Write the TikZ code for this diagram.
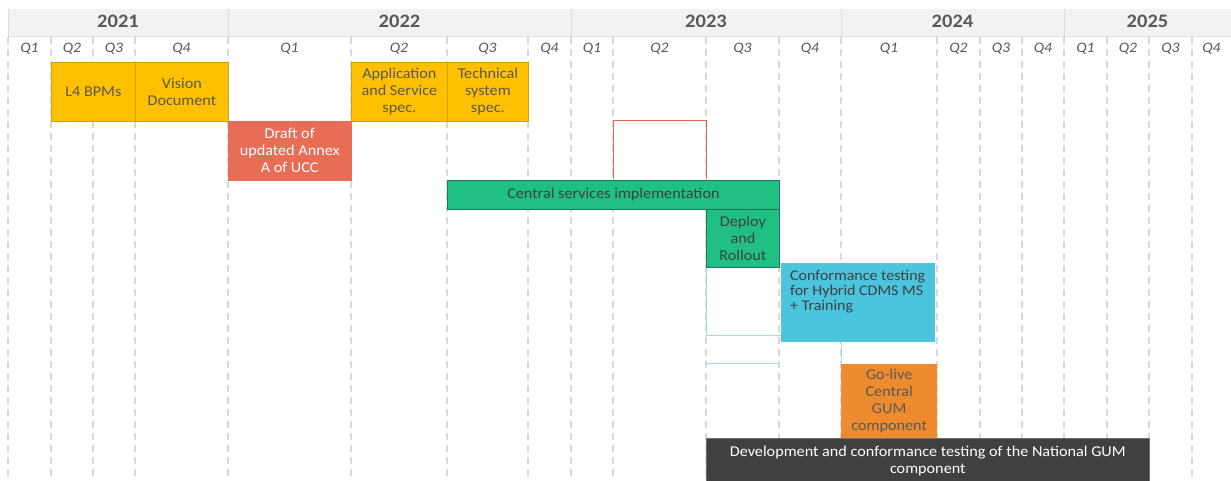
\documentclass[tikz,border=0pt]{standalone}
\usepackage{fontspec}
\setmainfont{Carlito}[FakeStretch=1.08]
\definecolor{hdrfill}{HTML}{F2F2F2}
\definecolor{hdrline}{HTML}{DEDEDE}
\definecolor{gridc}{HTML}{D9D9D9}
\definecolor{txt}{HTML}{595959}
\definecolor{txtd}{HTML}{404040}
\definecolor{goldf}{HTML}{FFC000}
\definecolor{goldd}{HTML}{D4A20C}
\definecolor{redf}{HTML}{E96C55}
\definecolor{redo}{HTML}{E8664F}
\definecolor{greenf}{HTML}{20BF86}
\definecolor{greend}{HTML}{1B7A56}
\definecolor{cyanf}{HTML}{4BC4DE}
\definecolor{blueo}{HTML}{A6D8EC}
\definecolor{orangef}{HTML}{ED8B2E}
\definecolor{darkf}{HTML}{404040}
\definecolor{darkd}{HTML}{6E6E6E}
\begin{document}
\begin{tikzpicture}[x=1pt,y=-1pt,
  gridline/.style={draw=gridc,line width=1.4pt,dash pattern=on 7pt off 5pt},
  yearlab/.style={font=\bfseries\fontsize{19}{22}\selectfont,text=txt,inner sep=0pt},
  qlab/.style={font=\itshape\fontsize{14.5}{17}\selectfont,text=txt,inner sep=0pt},
  task/.style={anchor=north west,inner sep=0pt,align=center,
    font=\fontsize{15}{17}\selectfont},
  goldbox/.style={task,fill=goldf,draw=goldd,line width=0.8pt,text=txt},
  redbox/.style={task,fill=redf,draw=redf,text=white},
  greenbox/.style={task,fill=greenf,draw=greend,line width=0.8pt,text=txtd},
  cyanbox/.style={task,fill=cyanf,text=txtd},
  orangebox/.style={task,fill=orangef,text=txt},
  darkbox/.style={task,fill=darkf,draw=darkd,line width=0.6pt,text=white},
  outred/.style={draw=redo,line width=1pt},
  outblue/.style={draw=blueo,line width=1pt}]
\useasboundingbox (0,0) rectangle (1231,480);
\fill[white] (0,0) rectangle (1231,480);
% header band
\fill[hdrfill] (8,9) rectangle (1231,36);
\draw[hdrline,line width=0.8pt] (8,36) -- (1231,36);
\foreach \x in {8,228,571,841,1064}
  \draw[hdrline,line width=1pt] (\x,9) -- (\x,36);
% grid
\foreach \x in {8,51,93,135,228,351,447,528,571,613,706,779,841,937,980,1022,1064,1107,1149,1192}
  \draw[gridline] (\x,37) -- (\x,480);
% year labels
\node[yearlab] (y2021) at (118,21) {2021};
\node[yearlab] (y2022) at (399.5,21) {2022};
\node[yearlab] (y2023) at (706,21) {2023};
\node[yearlab] (y2024) at (952.5,21) {2024};
\node[yearlab] (y2025) at (1147.5,21) {2025};
% quarter labels
\foreach \a/\b/\t [count=\i] in {8/51/Q1,51/93/Q2,93/135/Q3,135/228/Q4,
  228/351/Q1,351/447/Q2,447/528/Q3,528/571/Q4,
  571/613/Q1,613/706/Q2,706/779/Q3,779/841/Q4,
  841/937/Q1,937/980/Q2,980/1022/Q3,1022/1064/Q4,
  1064/1107/Q1,1107/1149/Q2,1149/1192/Q3,1192/1231/Q4}
  \node[qlab] (q\i) at ({(\a+\b)/2},49) {\t};
% outline placeholders
\coordinate (rA) at (613,179);
\coordinate (rB) at (613,120);
\coordinate (rC) at (706,120);
\coordinate (rD) at (706,179);
\draw[outred] (rA) -- (rB) -- (rC) -- (rD);
\coordinate (bA) at (706,266);
\coordinate (bB) at (706,335);
\coordinate (bC) at (781,335);
\draw[outblue] (bA) -- (bB) -- (bC);
\coordinate (bD) at (706,363);
\coordinate (bE) at (779,363);
\draw[outblue] (bD) -- (bE);
% tasks
\node[goldbox,minimum width=84pt,minimum height=59pt] (l4) at (51,61.5) {L4 BPMs};
\node[goldbox,minimum width=93pt,minimum height=59pt] (vision) at (135,61.5) {Vision\\Document};
\node[goldbox,minimum width=96pt,minimum height=59pt] (app) at (351,61.5) {Application\\and Service\\spec.};
\node[goldbox,minimum width=81pt,minimum height=59pt] (tech) at (447,61.5) {Technical\\system\\spec.};
\node[redbox,minimum width=123pt,minimum height=59pt] (draft) at (228,120.5) {Draft of\\updated Annex\\A of UCC};
\node[greenbox,minimum width=332pt,minimum height=29pt] (central) at (447,179.5) {Central services implementation};
\node[greenbox,minimum width=73pt,minimum height=58pt] (deploy) at (706,208.5) {Deploy\\and\\Rollout};
\node[cyanbox,minimum width=154pt,minimum height=79pt] (conf) at (781,263) {};
\node[anchor=north west,inner sep=0pt,align=left,text=txtd,
  font=\fontsize{14.8}{15}\selectfont] (conftxt) at (790,270.5)
  {Conformance testing\\for Hybrid CDMS MS\\+ Training};
\draw[outblue] (conf.south -| 841,0) -- (841,363);
\node[orangebox,minimum width=96pt,minimum height=75pt] (golive) at (841,363.5) {Go-live\\Central\\GUM\\component};
\node[darkbox,minimum width=443pt,minimum height=46pt] (dev) at (706,438) {Development and conformance testing of the National GUM\\component};
\end{tikzpicture}
\end{document}
